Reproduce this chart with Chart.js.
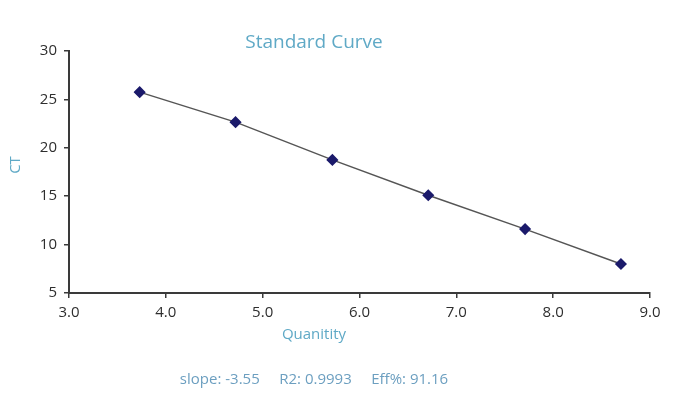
<!DOCTYPE html>
<html>
<head>
<meta charset="utf-8">
<script src="https://cdn.jsdelivr.net/npm/chart.js@4"></script>
<style>
  html, body { margin: 0; padding: 0; background: #fff; }
  #wrap { width: 691px; height: 396px; }
</style>
</head>
<body>
<div id="wrap"><canvas id="curveChart" width="691" height="396"></canvas></div>
<script>
const quantity = [3.73, 4.72, 5.72, 6.71, 7.71, 8.70];
const ctValues = [25.75, 22.65, 18.75, 15.1, 11.6, 8.0];
const xTicks = [3, 4, 5, 6, 7, 8, 9];
const yTicks = [5, 10, 15, 20, 25, 30];
const statsText = "slope: -3.55     R2: 0.9993     Eff%: 91.16";

const blueText = "#5fa9c6";
const axisGray = "#3a3a3a";

// titles sit off-centre from the plot area in the original, so draw them by hand
const overlayText = {
  id: "overlayText",
  afterDraw(chart) {
    const ctx = chart.ctx;
    ctx.save();
    ctx.fillStyle = blueText;
    ctx.textAlign = "center";
    ctx.textBaseline = "middle";
    ctx.font = "19px 'Open Sans'";
    ctx.fillText("Standard Curve", 314, 43);
    ctx.font = "15px 'Open Sans'";
    ctx.fillText("Quanitity", 314, 335);
    ctx.save();
    ctx.translate(16, 165);
    ctx.rotate(-Math.PI / 2);
    ctx.fillText("CT", 0, 0);
    ctx.restore();
    ctx.fillStyle = "#6c9fc0";
    ctx.font = "15px 'Open Sans'";
    ctx.fillText(statsText, 314, 380);
    ctx.restore();
  },
};

const ctx = document.getElementById("curveChart").getContext("2d");
const curveChart = new Chart(ctx, {
  type: "scatter",
  data: {
    datasets: [
      {
        label: "Standard",
        data: quantity.map((q, i) => ({ x: q, y: ctValues[i] })),
        showLine: true,
        borderColor: "#555555",
        borderWidth: 1.5,
        pointStyle: "rectRot",
        pointRadius: 5,
        pointBackgroundColor: "#1b1a6b",
        pointBorderColor: "#1b1a6b",
      },
    ],
  },
  options: {
    responsive: false,
    animation: false,
    layout: { padding: { left: 0, right: 41, top: 51, bottom: 43 } },
    plugins: {
      legend: { display: false },
      tooltip: { enabled: false },
    },
    scales: {
      x: {
        type: "linear",
        min: 3,
        max: 9,
        afterBuildTicks: (axis) => {
          axis.ticks = xTicks.map((v) => ({ value: v }));
        },
        afterFit: (axis) => {
          axis.height = 60;
        },
        border: { color: axisGray, width: 2 },
        grid: { drawOnChartArea: false, drawTicks: true, tickLength: 5, color: axisGray, lineWidth: 1.5 },
        ticks: {
          color: "#2e2e2e",
          font: { family: "'Open Sans'", size: 15 },
          padding: 6,
          maxRotation: 0,
          callback: (v) => Number(v).toFixed(1),
        },
      },
      y: {
        type: "linear",
        min: 5,
        max: 30,
        afterBuildTicks: (axis) => {
          axis.ticks = yTicks.map((v) => ({ value: v }));
        },
        afterFit: (axis) => {
          axis.width = 69;
        },
        border: { color: axisGray, width: 2 },
        grid: { drawOnChartArea: false, drawTicks: true, tickLength: 5, color: axisGray, lineWidth: 1.5 },
        ticks: {
          color: "#2e2e2e",
          font: { family: "'Open Sans'", size: 15 },
          padding: 7,
        },
      },
    },
  },
  plugins: [overlayText],
});
</script>
</body>
</html>
